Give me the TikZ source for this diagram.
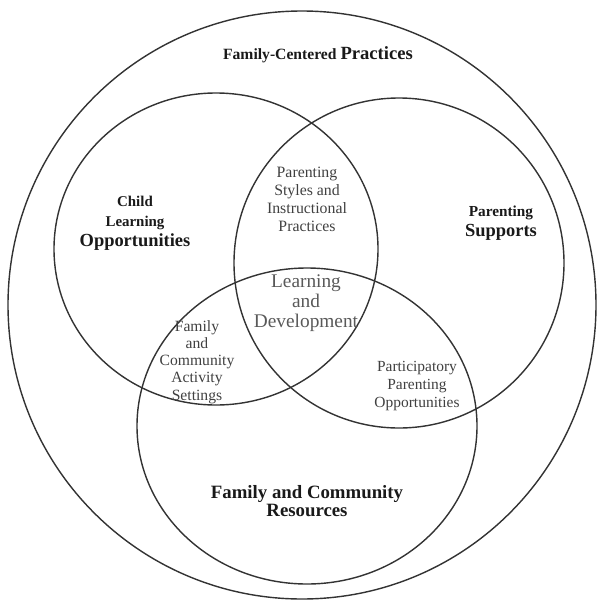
\documentclass[tikz,border=0pt]{standalone}
\usepackage{fontspec}
\setmainfont{Liberation Serif}
\newcommand{\fsz}[2]{\fontsize{#1}{#2}\selectfont}
\begin{document}
\begin{tikzpicture}[x=0.02cm,y=-0.02cm,
  ring/.style={draw=black!80, line width=0.8pt},
  lbl/.style={align=center, inner sep=0pt, text=black!85},
  boldlbl/.style={lbl, text=black!90},
  plainlbl/.style={lbl, text=black!75}]
  \useasboundingbox (0,0) rectangle (600,602);

  % circle centres
  \coordinate (outer) at (302,305);
  \coordinate (left)  at (216,249);
  \coordinate (right) at (399,263);
  \coordinate (lower) at (307,426);

  \draw[ring] (outer) circle [radius=294];
  \draw[ring] (left)  ellipse [x radius=162, y radius=156];
  \draw[ring] (right) circle [radius=165];
  \draw[ring] (lower) ellipse [x radius=170, y radius=158];

  % labels
  \node[boldlbl, font=\bfseries\fsz{8.9}{10}] (fcp) at (318,55)
    {Family-Centered {\fsz{10.6}{12}Practices}};
  \node[boldlbl, font=\bfseries\fsz{8.5}{11.3}] (clo) at (135,223)
    {Child\\ Learning\\ {\fsz{10.5}{11.3}Opportunities}};
  \node[boldlbl, font=\bfseries\fsz{8.7}{11.3}] (ps) at (501,223)
    {Parenting\\ {\fsz{10.5}{11.3}Supports}};
  \node[plainlbl, font=\fsz{9}{10.2}] (psip) at (307,199)
    {Parenting\\ Styles and\\ Instructional\\ Practices};
  \node[plainlbl, text=black!65, font=\fsz{11}{11.4}] (ld) at (306,303)
    {Learning\\ and\\ Development};
  \node[plainlbl, font=\fsz{8.9}{9.8}] (fcas) at (197,362)
    {Family\\ and\\ Community\\ Activity\\ Settings};
  \node[plainlbl, font=\fsz{8.8}{10}] (ppo) at (417,386)
    {Participatory\\ Parenting\\ Opportunities};
  \node[boldlbl, font=\bfseries\fsz{10.7}{9.8}] (fcr) at (307,501)
    {Family and Community\\ Resources};
\end{tikzpicture}
\end{document}
